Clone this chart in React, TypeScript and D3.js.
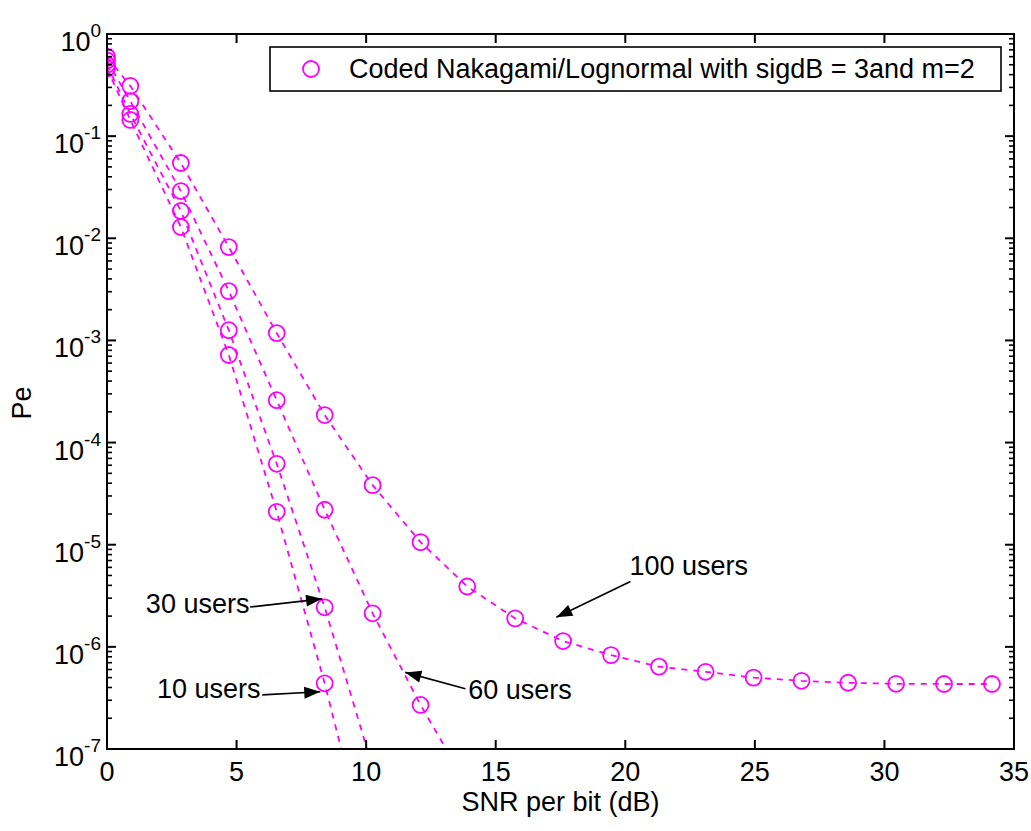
import React from 'react';
import * as d3 from 'd3';

// ---- data ----
const snrDb = [0, 0.9, 2.85, 4.7, 6.55, 8.4, 10.25, 12.1, 13.9, 15.75, 17.6, 19.45, 21.3, 23.1, 24.95, 26.8, 28.6, 30.45, 32.3, 34.15];
const pe10users = [0.46, 0.144, 0.0129, 7.2e-4, 2.1e-5, 4.4e-7, 6e-9];
const pe30users = [0.5, 0.165, 0.0185, 1.26e-3, 6.2e-5, 2.44e-6, 6.6e-8];
const pe60users = [0.55, 0.22, 0.029, 3.04e-3, 2.6e-4, 2.2e-5, 2.13e-6, 2.7e-7, 4.4e-8];
const pe100users = [0.6, 0.31, 0.0546, 8.2e-3, 1.18e-3, 1.86e-4, 3.83e-5, 1.06e-5, 3.9e-6, 1.9e-6, 1.14e-6, 8.3e-7, 6.4e-7, 5.7e-7, 5.0e-7, 4.65e-7, 4.45e-7, 4.35e-7, 4.33e-7, 4.33e-7];
const seriesList = [pe10users, pe30users, pe60users, pe100users];

const xTicks = [0, 5, 10, 15, 20, 25, 30, 35];
const yExponents = [0, -1, -2, -3, -4, -5, -6, -7];
const xLabel = 'SNR per bit (dB)';
const yLabel = 'Pe';
const legendLabel = 'Coded Nakagami/Lognormal with sigdB = 3and m=2';

// annotations in data coordinates (x in dB, y as log10 Pe)
const annoLabels = ['30 users', '10 users', '60 users', '100 users'];
const annoTextX = [1.5, 1.93, 13.94, 20.16];
const annoTextLogY = [-5.58, -6.41, -6.42, -5.21];
const annoFromX = [5.52, 5.99, 13.83, 20.2];
const annoFromLogY = [-5.61, -6.47, -6.41, -5.36];
const annoToX = [8.3, 8.23, 11.51, 17.34];
const annoToLogY = [-5.53, -6.44, -6.25, -5.71];

const W = 1031;
const H = 831;
const M = { left: 107, right: 1014, top: 34, bottom: 749 };
const MAG = '#ff00ff';
const FONT = 'Liberation Sans, Arial, Helvetica, sans-serif';
const FS = 27;

export default function App() {
  const x = d3.scaleLinear().domain([0, 35]).range([M.left, M.right]);
  const y = d3.scaleLog().domain([1e-7, 1]).range([M.bottom, M.top]);
  const line = d3
    .line<[number, number]>()
    .x((d) => x(d[0]))
    .y((d) => y(d[1]));

  const minorTicks: number[] = [];
  for (let e = -7; e < 0; e++) {
    for (let k = 2; k <= 9; k++) minorTicks.push(k * Math.pow(10, e));
  }

  const arrowHead = (x1: number, y1: number, x2: number, y2: number) => {
    const ang = Math.atan2(y2 - y1, x2 - x1);
    const len = 16;
    const hw = 6;
    const bx = x2 - len * Math.cos(ang);
    const by = y2 - len * Math.sin(ang);
    const px = -Math.sin(ang) * hw;
    const py = Math.cos(ang) * hw;
    return `${x2},${y2} ${bx + px},${by + py} ${bx - px},${by - py}`;
  };

  return (
    <svg
      width={W}
      height={H}
      style={{ position: 'absolute', left: 0, top: 0, background: '#fff' }}
      fontFamily={FONT}
    >
      <defs>
        <clipPath id="plotClip">
          <rect x={M.left} y={M.top} width={M.right - M.left} height={M.bottom - M.top} />
        </clipPath>
      </defs>
      <rect x={0} y={0} width={W} height={H} fill="#fff" />

      {/* series */}
      <g clipPath="url(#plotClip)">
        {seriesList.map((s, i) => {
          const pts: [number, number][] = s.map((v, j) => [snrDb[j], v]);
          return (
            <g key={i}>
              <path d={line(pts) || ''} fill="none" stroke={MAG} strokeWidth={1.8} strokeDasharray="6,6" />
              {pts.map((p, j) => (
                <circle key={j} cx={x(p[0])} cy={y(p[1])} r={8} fill="none" stroke={MAG} strokeWidth={1.8} />
              ))}
            </g>
          );
        })}
      </g>

      {/* axes box */}
      <rect
        x={M.left}
        y={M.top}
        width={M.right - M.left}
        height={M.bottom - M.top}
        fill="none"
        stroke="#000"
        strokeWidth={2}
      />

      {/* x ticks */}
      {xTicks.map((t) => (
        <g key={t}>
          <line x1={x(t)} x2={x(t)} y1={M.bottom} y2={M.bottom - 9} stroke="#000" strokeWidth={2} />
          <line x1={x(t)} x2={x(t)} y1={M.top} y2={M.top + 9} stroke="#000" strokeWidth={2} />
          <text x={x(t)} y={M.bottom + 32} textAnchor="middle" fontSize={FS} fill="#000">
            {t}
          </text>
        </g>
      ))}

      {/* y ticks */}
      {yExponents.map((e) => {
        const yy = y(Math.pow(10, e));
        return (
          <g key={e}>
            <line x1={M.left} x2={M.left + 9} y1={yy} y2={yy} stroke="#000" strokeWidth={2} />
            <line x1={M.right} x2={M.right - 9} y1={yy} y2={yy} stroke="#000" strokeWidth={2} />
            <text x={M.left - 6} y={yy + 17} textAnchor="end" fontSize={FS} fill="#000">
              10
              <tspan dy={-14} fontSize={19}>
                {e}
              </tspan>
            </text>
          </g>
        );
      })}
      {minorTicks.map((v, i) => (
        <g key={i}>
          <line x1={M.left} x2={M.left + 5} y1={y(v)} y2={y(v)} stroke="#000" strokeWidth={1.6} />
          <line x1={M.right} x2={M.right - 5} y1={y(v)} y2={y(v)} stroke="#000" strokeWidth={1.6} />
        </g>
      ))}

      {/* axis labels */}
      <text x={(M.left + M.right) / 2} y={811} textAnchor="middle" fontSize={FS} fill="#000">
        {xLabel}
      </text>
      <text transform={`translate(31,403) rotate(-90)`} textAnchor="middle" fontSize={FS} fill="#000">
        {yLabel}
      </text>

      {/* annotations */}
      {annoLabels.map((lab, i) => {
        const x1 = x(annoFromX[i]);
        const y1 = y(Math.pow(10, annoFromLogY[i]));
        const x2 = x(annoToX[i]);
        const y2 = y(Math.pow(10, annoToLogY[i]));
        return (
          <g key={lab}>
            <text
              x={x(annoTextX[i])}
              y={y(Math.pow(10, annoTextLogY[i])) + 9}
              fontSize={FS}
              fill="#000"
            >
              {lab}
            </text>
            <line x1={x1} y1={y1} x2={x2} y2={y2} stroke="#000" strokeWidth={1.6} />
            <polygon points={arrowHead(x1, y1, x2, y2)} fill="#000" />
          </g>
        );
      })}

      {/* legend */}
      <rect x={270} y={47} width={731} height={44} fill="#fff" stroke="#000" strokeWidth={1.6} />
      <circle cx={311} cy={69} r={8} fill="none" stroke={MAG} strokeWidth={1.8} />
      <text x={349} y={78} fontSize={FS} fill="#000">
        {legendLabel}
      </text>
    </svg>
  );
}
